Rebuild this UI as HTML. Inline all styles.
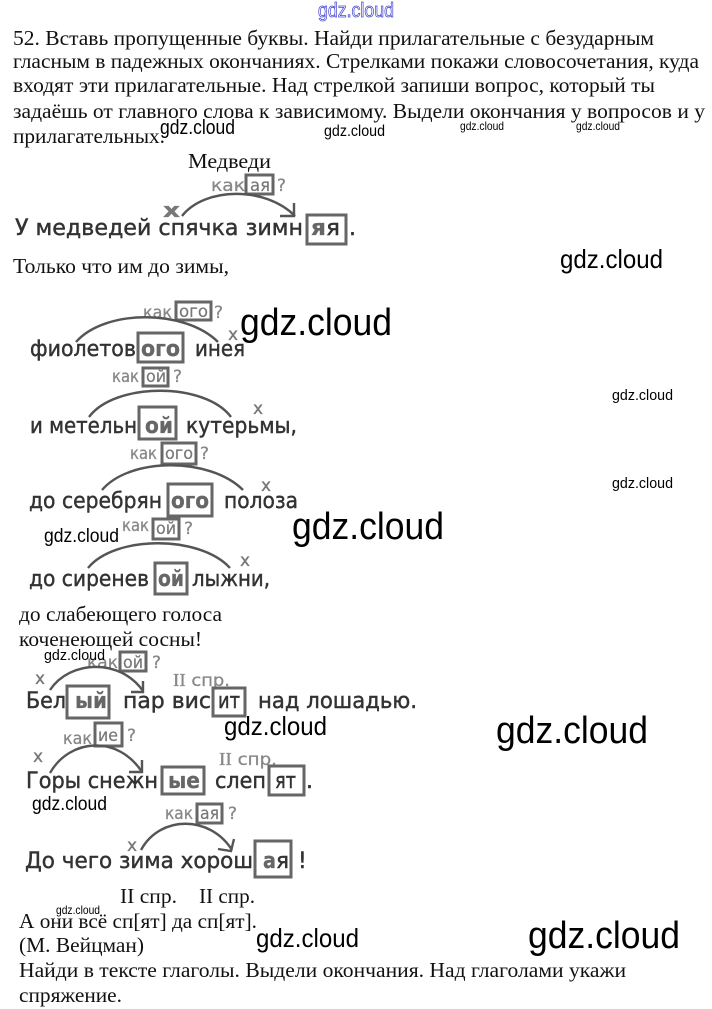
<!DOCTYPE html>
<html lang="ru"><head><meta charset="utf-8"><title>52</title>
<style>
html,body{margin:0;padding:0;background:#fff}
svg{display:block}
.t{font-family:"Liberation Serif",serif;font-size:21px;fill:#111}
.s{font-family:"DejaVu Sans",sans-serif;font-size:22px;fill:#333;stroke:#333;stroke-width:.45}
.b{font-family:"DejaVu Sans",sans-serif;font-size:22px;fill:#666;stroke:#666;stroke-width:.3;font-weight:bold}
.g{font-family:"DejaVu Sans",sans-serif;font-size:17px;fill:#888;stroke:#888;stroke-width:.3}
.gd{font-family:"DejaVu Sans",sans-serif;font-size:17px;fill:#777;stroke:#777;stroke-width:.2}
.x{font-family:"DejaVu Sans",sans-serif;font-size:17px;fill:#777;stroke:#777;stroke-width:.3}
.w{font-family:"Liberation Sans",sans-serif;fill:#000}
rect{fill:none;stroke:#666;stroke-width:3}
path{fill:none;stroke:#555;stroke-width:2.4}
</style></head><body>
<svg width="712" height="1009" viewBox="0 0 712 1009" xmlns="http://www.w3.org/2000/svg">
<g class="t">
<text x="13" y="45" textLength="641" lengthAdjust="spacingAndGlyphs">52. Вставь пропущенные буквы. Найди прилагательные с безударным</text>
<text x="13" y="68" textLength="686" lengthAdjust="spacingAndGlyphs">гласным в падежных окончаниях. Стрелками покажи словосочетания, куда</text>
<text x="13" y="92" textLength="642" lengthAdjust="spacingAndGlyphs">входят эти прилагательные. Над стрелкой запиши вопрос, который ты</text>
<text x="13" y="118" textLength="692" lengthAdjust="spacingAndGlyphs">задаёшь от главного слова к зависимому. Выдели окончания у вопросов и у</text>
<text x="13" y="143" textLength="152" lengthAdjust="spacingAndGlyphs">прилагательных.</text>
<text x="188" y="168" textLength="83" lengthAdjust="spacingAndGlyphs">Медведи</text>
<text x="13" y="273" textLength="216" lengthAdjust="spacingAndGlyphs">Только что им до зимы,</text>
<text x="19" y="621" textLength="203" lengthAdjust="spacingAndGlyphs">до слабеющего голоса</text>
<text x="19" y="646" textLength="183" lengthAdjust="spacingAndGlyphs">коченеющей сосны!</text>
<text x="120" y="903" textLength="57" lengthAdjust="spacingAndGlyphs">II спр.</text>
<text x="199" y="903" textLength="56" lengthAdjust="spacingAndGlyphs">II спр.</text>
<text x="19" y="928" textLength="238" lengthAdjust="spacingAndGlyphs">А они всё сп[ят] да сп[ят].</text>
<text x="19" y="952" textLength="125" lengthAdjust="spacingAndGlyphs">(М. Вейцман)</text>
<text x="19" y="977" textLength="607" lengthAdjust="spacingAndGlyphs">Найди в тексте глаголы. Выдели окончания. Над глаголами укажи</text>
<text x="19" y="1002" textLength="103" lengthAdjust="spacingAndGlyphs">спряжение.</text>
</g>

<!-- row 1 -->
<text class="g" x="211" y="191" textLength="34" lengthAdjust="spacingAndGlyphs">как</text>
<rect x="246" y="175" width="27" height="19"/>
<text class="gd" x="250" y="191" textLength="20" lengthAdjust="spacingAndGlyphs">ая</text>
<text class="g" x="277" y="191">?</text>
<path d="M182 216C205 187 265 186 295 216"/>
<path d="M294 203V216H280" />
<text class="x" x="163" y="217" style="font-weight:bold;font-size:20px" textLength="17" lengthAdjust="spacingAndGlyphs">х</text>
<text class="s" x="15" y="235" textLength="288" lengthAdjust="spacingAndGlyphs">У медведей спячка зимн</text>
<rect x="307" y="215" width="39" height="29"/>
<text class="b" x="311" y="235" textLength="15" lengthAdjust="spacingAndGlyphs">я</text>
<text class="s" x="326" y="235" textLength="14" lengthAdjust="spacingAndGlyphs">я</text>
<text class="s" x="349" y="235">.</text>

<!-- row 2 -->
<text class="g" x="143" y="318" textLength="29" lengthAdjust="spacingAndGlyphs">как</text>
<rect x="176" y="302" width="35" height="18"/>
<text class="gd" x="179" y="317" textLength="29" lengthAdjust="spacingAndGlyphs">ого</text>
<text class="g" x="214" y="318">?</text>
<path d="M76 342C105 309 185 309 218 342"/>
<text class="x" x="228" y="340">х</text>
<text class="s" x="30" y="356" textLength="106" lengthAdjust="spacingAndGlyphs">фиолетов</text>
<rect x="138" y="333" width="45" height="29"/>
<text class="b" x="141" y="356" textLength="39" lengthAdjust="spacingAndGlyphs">ого</text>
<text class="s" x="195" y="356" textLength="50" lengthAdjust="spacingAndGlyphs">инея</text>

<!-- row 3 -->
<text class="g" x="112" y="382" textLength="27" lengthAdjust="spacingAndGlyphs">как</text>
<rect x="143" y="368" width="25" height="18"/>
<text class="gd" x="146" y="382" textLength="20" lengthAdjust="spacingAndGlyphs">ой</text>
<text class="g" x="173" y="382">?</text>
<path d="M89 417C115 382 205 382 231 417"/>
<text class="x" x="253" y="414">х</text>
<text class="s" x="30" y="433" textLength="107" lengthAdjust="spacingAndGlyphs">и метельн</text>
<rect x="139" y="407" width="37" height="32"/>
<text class="b" x="145" y="433" textLength="28" lengthAdjust="spacingAndGlyphs">ой</text>
<text class="s" x="186" y="433" textLength="111" lengthAdjust="spacingAndGlyphs">кутерьмы,</text>

<!-- row 4 -->
<text class="g" x="130" y="459" textLength="27" lengthAdjust="spacingAndGlyphs">как</text>
<rect x="162" y="443" width="34" height="21"/>
<text class="gd" x="165" y="459" textLength="28" lengthAdjust="spacingAndGlyphs">ого</text>
<text class="g" x="200" y="459">?</text>
<path d="M102 490C130 457 210 457 243 490"/>
<text class="x" x="261" y="491">х</text>
<text class="s" x="29" y="508" textLength="133" lengthAdjust="spacingAndGlyphs">до серебрян</text>
<rect x="168" y="484" width="44" height="32"/>
<text class="b" x="171" y="508" textLength="38" lengthAdjust="spacingAndGlyphs">ого</text>
<text class="s" x="224" y="508" textLength="74" lengthAdjust="spacingAndGlyphs">полоза</text>

<!-- row 5 -->
<text class="g" x="122" y="531" textLength="27" lengthAdjust="spacingAndGlyphs">как</text>
<rect x="153" y="519" width="26" height="20"/>
<text class="gd" x="156" y="534" textLength="20" lengthAdjust="spacingAndGlyphs">ой</text>
<text class="g" x="184" y="534">?</text>
<path d="M88 568C115 535 200 535 230 568"/>
<text class="x" x="240" y="566">х</text>
<text class="s" x="29" y="586" textLength="120" lengthAdjust="spacingAndGlyphs">до сиренев</text>
<rect x="155" y="563" width="32" height="31"/>
<text class="b" x="158" y="586" textLength="26" lengthAdjust="spacingAndGlyphs">ой</text>
<text class="s" x="192" y="586" textLength="78" lengthAdjust="spacingAndGlyphs">лыжни,</text>

<!-- row 6 -->
<text class="g" x="87" y="668" textLength="31" lengthAdjust="spacingAndGlyphs">как</text>
<rect x="120" y="652" width="26" height="19"/>
<text class="gd" x="123" y="668" textLength="20" lengthAdjust="spacingAndGlyphs">ой</text>
<text class="g" x="152" y="668">?</text>
<path d="M50 690C70 660 120 658 143 691"/>
<path d="M143 681V692H131"/>
<text class="x" x="35" y="684">х</text>
<text class="g" x="173" y="686" textLength="57" lengthAdjust="spacingAndGlyphs" style="font-family:'Liberation Serif',serif;font-size:18px">II<tspan style="font-family:'DejaVu Sans',sans-serif;font-size:17px"> спр.</tspan></text>
<text class="s" x="26" y="708" textLength="40" lengthAdjust="spacingAndGlyphs">Бел</text>
<rect x="67" y="686" width="42" height="32"/>
<text class="b" x="75" y="708" textLength="32" lengthAdjust="spacingAndGlyphs">ый</text>
<text class="s" x="123" y="708" textLength="88" lengthAdjust="spacingAndGlyphs">пар вис</text>
<rect x="213" y="688" width="32" height="28"/>
<text class="s" x="218" y="708" textLength="22" lengthAdjust="spacingAndGlyphs">ит</text>
<text class="s" x="258" y="708" textLength="159" lengthAdjust="spacingAndGlyphs">над лошадью.</text>

<!-- row 7 -->
<text class="g" x="63" y="744" textLength="29" lengthAdjust="spacingAndGlyphs">как</text>
<rect x="95" y="723" width="27" height="23"/>
<text class="gd" x="98" y="741" textLength="20" lengthAdjust="spacingAndGlyphs">ие</text>
<text class="g" x="127" y="741">?</text>
<path d="M50 773C70 738 118 735 142 772"/>
<path d="M142 760V772H129"/>
<text class="x" x="33" y="762">х</text>
<text class="g" x="219" y="765" textLength="58" lengthAdjust="spacingAndGlyphs" style="font-family:'Liberation Serif',serif;font-size:18px">II<tspan style="font-family:'DejaVu Sans',sans-serif;font-size:17px"> спр.</tspan></text>
<text class="s" x="26" y="788" textLength="132" lengthAdjust="spacingAndGlyphs">Горы снежн</text>
<rect x="162" y="767" width="42" height="27"/>
<text class="b" x="168" y="788" textLength="32" lengthAdjust="spacingAndGlyphs">ые</text>
<text class="s" x="215" y="788" textLength="51" lengthAdjust="spacingAndGlyphs">слеп</text>
<rect x="269" y="766" width="35" height="29"/>
<text class="s" x="275" y="788" textLength="21" lengthAdjust="spacingAndGlyphs">ят</text>
<text class="s" x="306" y="788">.</text>

<!-- row 8 -->
<text class="g" x="165" y="819" textLength="28" lengthAdjust="spacingAndGlyphs">как</text>
<rect x="197" y="804" width="25" height="19"/>
<text class="gd" x="200" y="819" textLength="19" lengthAdjust="spacingAndGlyphs">ая</text>
<text class="g" x="228" y="819">?</text>
<path d="M141 850C160 815 210 815 232 850"/>
<path d="M234 839L231 851L218 849"/>
<text class="x" x="127" y="851">х</text>
<text class="s" x="25" y="868" textLength="228" lengthAdjust="spacingAndGlyphs">До чего зима хорош</text>
<rect x="255" y="841" width="36" height="36"/>
<text class="b" x="263" y="868" textLength="13" lengthAdjust="spacingAndGlyphs">а</text>
<text class="s" x="276" y="868" textLength="13" lengthAdjust="spacingAndGlyphs">я</text>
<text class="s" x="298" y="868">!</text>

<!-- watermarks -->
<text x="318" y="17" textLength="76" lengthAdjust="spacingAndGlyphs" style="font-family:'Liberation Sans',sans-serif;font-size:20px;fill:#fff;stroke:#4a4ad0;stroke-width:.8">gdz.cloud</text>
<g class="w">
<text x="160" y="134" font-size="20" textLength="75" lengthAdjust="spacingAndGlyphs">gdz.cloud</text>
<text x="324" y="136" font-size="16" textLength="61" lengthAdjust="spacingAndGlyphs">gdz.cloud</text>
<text x="460" y="130" font-size="12" textLength="44" lengthAdjust="spacingAndGlyphs">gdz.cloud</text>
<text x="576" y="130" font-size="12" textLength="44" lengthAdjust="spacingAndGlyphs">gdz.cloud</text>
<text x="560" y="268" font-size="26" textLength="103" lengthAdjust="spacingAndGlyphs">gdz.cloud</text>
<text x="240" y="335" font-size="38" textLength="152" lengthAdjust="spacingAndGlyphs">gdz.cloud</text>
<text x="612" y="400" font-size="15" textLength="61" lengthAdjust="spacingAndGlyphs">gdz.cloud</text>
<text x="612" y="488" font-size="15" textLength="61" lengthAdjust="spacingAndGlyphs">gdz.cloud</text>
<text x="44" y="542" font-size="19" textLength="75" lengthAdjust="spacingAndGlyphs">gdz.cloud</text>
<text x="292" y="539" font-size="38" textLength="152" lengthAdjust="spacingAndGlyphs">gdz.cloud</text>
<text x="44" y="660" font-size="15" textLength="61" lengthAdjust="spacingAndGlyphs">gdz.cloud</text>
<text x="224" y="735" font-size="26" textLength="103" lengthAdjust="spacingAndGlyphs">gdz.cloud</text>
<text x="496" y="743" font-size="38" textLength="152" lengthAdjust="spacingAndGlyphs">gdz.cloud</text>
<text x="32" y="810" font-size="19" textLength="75" lengthAdjust="spacingAndGlyphs">gdz.cloud</text>
<text x="56" y="914" font-size="12" textLength="44" lengthAdjust="spacingAndGlyphs">gdz.cloud</text>
<text x="256" y="947" font-size="26" textLength="103" lengthAdjust="spacingAndGlyphs">gdz.cloud</text>
<text x="528" y="948" font-size="38" textLength="152" lengthAdjust="spacingAndGlyphs">gdz.cloud</text>
</g>
</svg>
</body></html>
